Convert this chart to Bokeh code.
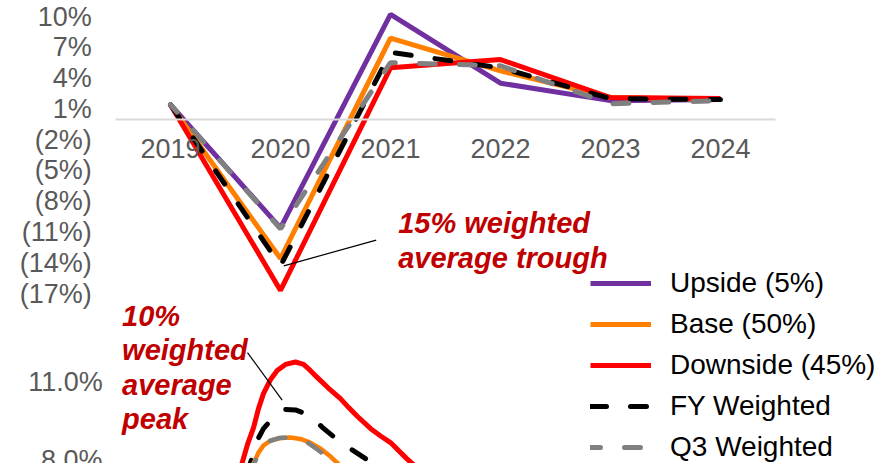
from bokeh.plotting import figure
from bokeh.models import (Range1d, LinearAxis, FixedTicker, CustomJSTickFormatter,
                          Legend, LegendItem, Label)
from bokeh.core.properties import value
from bokeh.embed import file_html
from bokeh.resources import INLINE

# ---- GDP growth scenarios (annual, %) ----
years = [2019, 2020, 2021, 2022, 2023, 2024]
upside = [1.4, -10.6, 10.2, 3.5, 1.8, 1.9]
base = [1.4, -13.6, 7.9, 4.7, 2.1, 1.9]
downside = [1.4, -16.7, 5.0, 5.8, 2.1, 2.0]
fy_weighted = [1.4, -14.3, 6.5, 5.0, 2.0, 1.9]
q3_weighted = [1.4, -10.7, 5.5, 5.2, 1.5, 1.8]
growth_ticks = [10, 7, 4, 1, -2, -5, -8, -11, -14, -17]

# ---- unemployment rate paths (%, fractional year on x) ----
unemp_downside_x = [2019.62, 2019.65, 2019.70, 2019.755, 2019.80, 2019.845, 2019.91,
                    2019.97, 2020.045, 2020.136, 2020.21, 2020.27, 2020.345, 2020.43,
                    2020.545, 2020.62, 2020.70, 2020.82, 2020.91, 2021.00, 2021.145,
                    2021.27]
unemp_downside = [7.43, 7.89, 8.61, 9.25, 9.97, 10.54, 11.08, 11.42, 11.65, 11.74,
                  11.65, 11.42, 11.11, 10.77, 10.35, 10.01, 9.67, 9.21, 8.93, 8.68,
                  8.08, 7.62]
unemp_fy_x = [2019.69, 2019.743, 2019.788, 2019.845, 2019.925, 2019.98, 2020.045,
              2020.136, 2020.273, 2020.38, 2020.545, 2020.70, 2020.84, 2020.955]
unemp_fy = [7.43, 8.12, 8.76, 9.21, 9.59, 9.82, 9.94, 9.92, 9.71, 9.26, 8.69, 8.27,
            7.89, 7.54]
unemp_base_x = [2019.71, 2019.755, 2019.80, 2019.845, 2019.91, 2020.0, 2020.09,
                2020.18, 2020.27, 2020.36, 2020.455, 2020.52, 2020.59]
unemp_base = [7.54, 7.89, 8.30, 8.57, 8.76, 8.85, 8.87, 8.82, 8.68, 8.46, 8.15, 7.89, 7.62]
unemp_q3_x = [2019.727, 2019.773, 2019.818, 2019.89, 2019.982, 2020.09, 2020.18,
              2020.27, 2020.36, 2020.48, 2020.545]
unemp_q3 = [7.62, 8.00, 8.38, 8.72, 8.85, 8.88, 8.84, 8.61, 8.34, 8.00, 7.77]
unemp_ticks = [8, 11]

series_names = ["Upside (5%)", "Base (50%)", "Downside (45%)", "FY Weighted", "Q3 Weighted"]

PURPLE = "#7030A0"
ORANGE = "#FF7F00"
RED = "#FF0000"
BLACK = "#000000"
GREY = "#808080"
DARK_RED = "#C00000"
TICK_GREY = "#595959"
FONT = "Liberation Sans"

p = figure(width=884, height=463, output_backend="svg", toolbar_location=None,
           x_range=Range1d(2017.4545, 2025.4909), y_range=Range1d(-33.57, 11.56),
           x_axis_type=None, y_axis_type=None, min_border=0)
p.extra_y_ranges = {"unemp": Range1d(7.886, 25.47)}
p.outline_line_color = None
p.background_fill_color = "white"

# ---- axes ----
year_axis = LinearAxis(fixed_location=0, bounds=(2018.5, 2024.5),
                       ticker=FixedTicker(ticks=years))
year_axis.axis_line_color = "#D9D9D9"
year_axis.axis_line_width = 2
year_axis.major_tick_line_color = None
year_axis.minor_tick_line_color = None
year_axis.major_label_standoff = 14
year_axis.major_label_text_font = FONT
year_axis.major_label_text_font_size = "27px"
year_axis.major_label_text_color = TICK_GREY
p.add_layout(year_axis, "below")

growth_axis = LinearAxis(fixed_location=2018.385, bounds=(-17, 10),
                         ticker=FixedTicker(ticks=growth_ticks))
growth_axis.formatter = CustomJSTickFormatter(
    code="return tick < 0 ? '(' + Math.abs(tick) + '%)' : tick + '%';")
p.add_layout(growth_axis, "left")

# upper unemployment tick on the axis; the lowest one sits on the bottom edge of the
# canvas and is drawn as clipped text so it is cut like the rest of the panel
unemp_axis = LinearAxis(fixed_location=2018.485, y_range_name="unemp", bounds=(8, 11),
                        ticker=FixedTicker(ticks=unemp_ticks[1:]))
unemp_axis.formatter = CustomJSTickFormatter(code="return tick.toFixed(1) + '%';")
p.add_layout(unemp_axis, "left")

for ax in [growth_axis, unemp_axis]:
    ax.axis_line_color = None
    ax.major_tick_line_color = None
    ax.minor_tick_line_color = None
    ax.major_label_standoff = 5
    ax.major_label_text_font = FONT
    ax.major_label_text_font_size = "27px"
    ax.major_label_text_color = TICK_GREY

p.text(x=[2018.382] * len(unemp_ticks[:1]), y=unemp_ticks[:1],
       text=[f"{t:.1f}%" for t in unemp_ticks[:1]], y_range_name="unemp",
       text_align="right", text_baseline="middle", text_font=value(FONT),
       text_font_size="27px", text_color=TICK_GREY)

# ---- growth lines ----
W = 5
r_up = p.line(years, upside, line_color=PURPLE, line_width=W)
r_base = p.line(years, base, line_color=ORANGE, line_width=W)
r_down = p.line(years, downside, line_color=RED, line_width=W)
r_fy = p.line(years, fy_weighted, line_color=BLACK, line_width=W,
              line_dash="16 24", line_cap="round")
r_q3 = p.line(years, q3_weighted, line_color=GREY, line_width=W,
              line_dash="16 24", line_dash_offset=6, line_cap="round")

# ---- unemployment lines ----
p.line(unemp_downside_x, unemp_downside, y_range_name="unemp", line_color=RED,
       line_width=5, line_join="round")
p.line(unemp_fy_x, unemp_fy, y_range_name="unemp", line_color=BLACK, line_width=5,
       line_dash="16 24", line_cap="round", line_join="round")
p.line(unemp_base_x, unemp_base, y_range_name="unemp", line_color=ORANGE,
       line_width=4.5, line_join="round")
p.line(unemp_q3_x, unemp_q3, y_range_name="unemp", line_color=GREY, line_width=4.5,
       line_dash="16 24", line_dash_offset=4, line_cap="round", line_join="round")

# ---- call-outs ----
trough_lines = ["15% weighted", "average trough"]
for i, t in enumerate(trough_lines):
    p.add_layout(Label(x=2021.07, y=-10.1 - 3.4 * i, text=t, text_font=FONT,
                       text_font_size="29px", text_font_style="bold italic",
                       text_color=DARK_RED, text_baseline="middle"))
p.segment(x0=[2020.87], y0=[-11.8], x1=[years[1] + 0.03], y1=[fy_weighted[1]],
          line_color="black", line_width=1.2)

peak_lines = ["10%", "weighted", "average", "peak"]
for i, t in enumerate(peak_lines):
    p.add_layout(Label(x=2018.56, y=13.5 - 1.31 * i, y_range_name="unemp", text=t,
                       text_font=FONT, text_font_size="29px",
                       text_font_style="bold italic", text_color=DARK_RED,
                       text_baseline="middle"))
peak_i = unemp_fy.index(max(unemp_fy))
p.segment(x0=[2019.70], y0=[12.1], x1=[unemp_fy_x[peak_i] - 0.03],
          y1=[unemp_fy[peak_i] + 0.35], y_range_name="unemp",
          line_color="black", line_width=1.2)

# ---- legend ----
legend = Legend(items=[LegendItem(label=n, renderers=[r])
                       for n, r in zip(series_names, [r_up, r_base, r_down, r_fy, r_q3])],
                location=(590, 0))
legend.label_text_font = FONT
legend.label_text_font_size = "28px"
legend.label_text_color = "black"
legend.glyph_width = 61
legend.glyph_height = 20
legend.label_standoff = 19
legend.spacing = 9
legend.padding = 0
legend.margin = 0
legend.border_line_color = None
legend.background_fill_alpha = 0
p.add_layout(legend)

open("out.html", "w").write(file_html(p, INLINE))
